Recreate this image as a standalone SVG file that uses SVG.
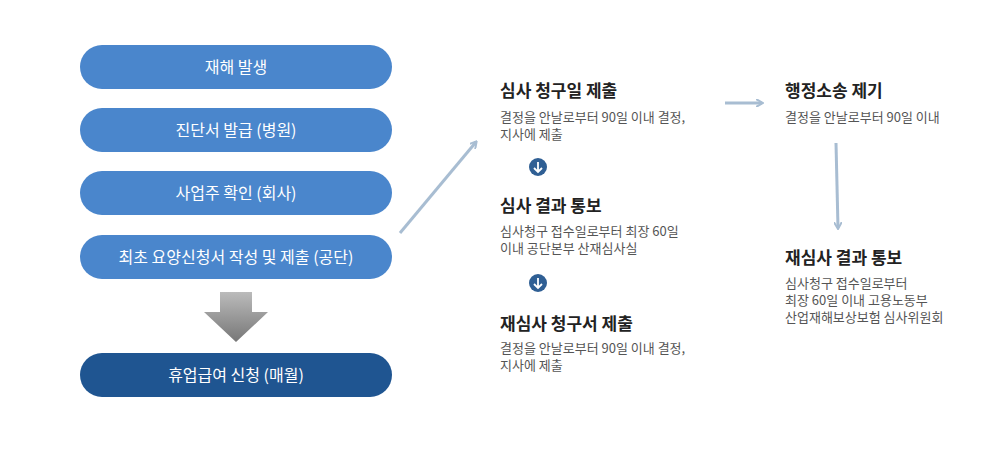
<svg xmlns="http://www.w3.org/2000/svg" width="1000" height="450" viewBox="0 0 1000 450">
<style>
.pill{fill:#4a86cc}
.pt{font-family:"Noto Sans CJK KR",sans-serif;font-size:16px;fill:#fff;text-anchor:middle}
.h{font-family:"Noto Sans CJK KR",sans-serif;font-size:17px;font-weight:bold;fill:#222}
.s{font-family:"Noto Sans CJK KR",sans-serif;font-size:13px;fill:#555}
.c{stroke:#a8bdd2;stroke-width:3;fill:none}
</style>
<defs>
<linearGradient id="g" x1="0" y1="0" x2="0" y2="1"><stop offset="0" stop-color="#bbb"/><stop offset="1" stop-color="#777"/></linearGradient>
<marker id="a" markerWidth="8" markerHeight="8" refX="6" refY="4" orient="auto" markerUnits="userSpaceOnUse" viewBox="0 0 8 8"><path d="M0,0 L7,4 L0,8" fill="none" stroke="#a8bdd2" stroke-width="2"/></marker>
</defs>
<g id="n1"><rect class="pill" x="80" y="45" width="312" height="44" rx="22"/><text class="pt" x="236" y="73">재해 발생</text></g>
<g id="n2"><rect class="pill" x="80" y="108" width="312" height="44" rx="22"/><text class="pt" x="236" y="136">진단서 발급 (병원)</text></g>
<g id="n3"><rect class="pill" x="80" y="171" width="312" height="44" rx="22"/><text class="pt" x="236" y="199">사업주 확인 (회사)</text></g>
<g id="n4"><rect class="pill" x="80" y="235" width="312" height="44" rx="22"/><text class="pt" x="236" y="263">최초 요양신청서 작성 및 제출 (공단)</text></g>
<g id="bigarrow"><path d="M220,292 H252 V312 H268 L236,342 L204,312 H220 Z" fill="url(#g)"/></g>
<g id="n5"><rect x="80" y="353" width="312" height="44" rx="22" fill="#1f5591"/><text class="pt" x="236" y="381">휴업급여 신청 (매월)</text></g>
<g id="b1"><text class="h" x="500" y="97">심사 청구일 제출</text><text class="s" x="500" y="122">결정을 안날로부터 90일 이내 결정,</text><text class="s" x="500" y="139">지사에 제출</text></g>
<g id="b2"><text class="h" x="500" y="212">심사 결과 통보</text><text class="s" x="500" y="236">심사청구 접수일로부터 최장 60일</text><text class="s" x="500" y="253">이내 공단본부 산재심사실</text></g>
<g id="b3"><text class="h" x="500" y="330">재심사 청구서 제출</text><text class="s" x="500" y="353">결정을 안날로부터 90일 이내 결정,</text><text class="s" x="500" y="370">지사에 제출</text></g>
<g id="b4"><text class="h" x="785" y="97">행정소송 제기</text><text class="s" x="785" y="122">결정을 안날로부터 90일 이내</text></g>
<g id="b5"><text class="h" x="785" y="264">재심사 결과 통보</text><text class="s" x="785" y="288">심사청구 접수일로부터</text><text class="s" x="785" y="305">최장 60일 이내 고용노동부</text><text class="s" x="785" y="322">산업재해보상보험 심사위원회</text></g>
<g id="connectors">
<path class="c" d="M400,233 L476,142" marker-end="url(#a)"/>
<path class="c" d="M725,103 L762,103" marker-end="url(#a)"/>
<path class="c" d="M836,143 L838,228" marker-end="url(#a)"/>
<g fill="#2f5f94"><circle cx="538" cy="167" r="9"/><circle cx="538" cy="283" r="9"/></g>
<g stroke="#fff" stroke-width="1.8" fill="none"><path d="M538,162 V171 M534,168 L538,172 L542,168"/><path d="M538,278 V287 M534,284 L538,288 L542,284"/></g>
</g>
</svg>
